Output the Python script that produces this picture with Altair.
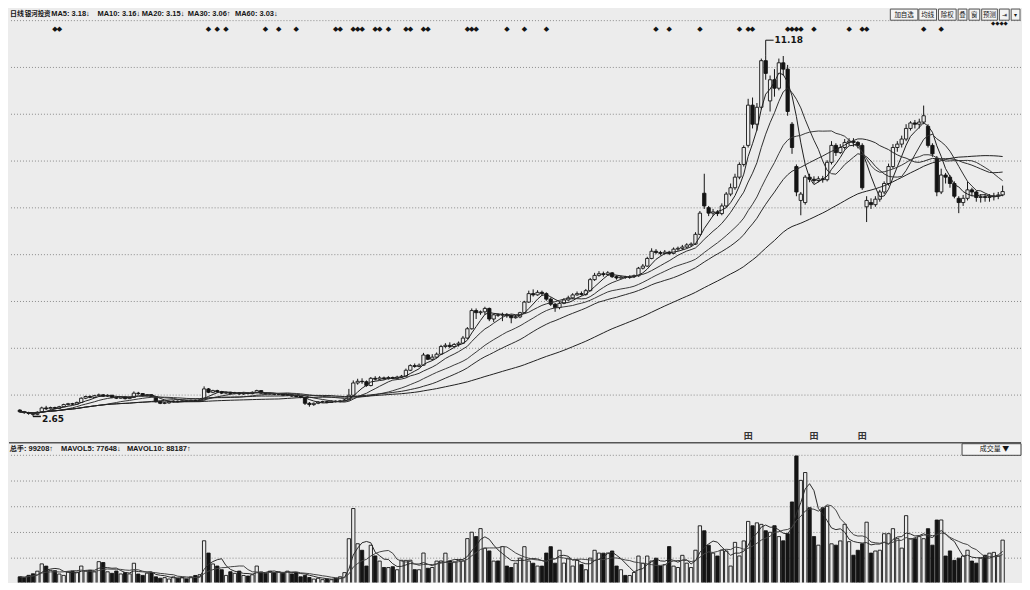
import altair as alt
import pandas as pd

# ---------------- data ----------------
period = "日线"
stock_name = "银河投资"
ma_labels = ["MA5: 3.18↓", "MA10: 3.16↓", "MA20: 3.15↓", "MA30: 3.06↑", "MA60: 3.03↓"]
vol_labels = ["总手: 99208↑", "MAVOL5: 77648↓", "MAVOL10: 88187↑"]
buttons = ["加自选", "均线", "除权", "叠", "窗", "预测", "⇥", "▾"]
vol_mode = "成交量 ▼"

open_ = [
    2.80, 2.76, 2.74, 2.72, 2.70, 2.75, 2.85, 2.83, 2.86, 2.84,
    2.88, 2.93, 2.95, 2.94, 2.98, 3.08, 3.12, 3.10, 3.14, 3.16,
    3.13, 3.15, 3.10, 3.08, 3.11, 3.07, 3.10, 3.20, 3.19, 3.14,
    3.16, 3.12, 3.00, 2.96, 2.97, 3.00, 3.01, 3.00, 3.02, 3.01,
    3.03, 3.02, 3.04, 3.30, 3.22, 3.26, 3.23, 3.20, 3.22, 3.19,
    3.21, 3.18, 3.20, 3.19, 3.22, 3.26, 3.20, 3.18, 3.19, 3.17,
    3.18, 3.15, 3.16, 3.13, 3.12, 3.10, 2.96, 2.93, 2.96, 2.99,
    3.00, 2.98, 3.01, 3.00, 3.02, 3.04, 3.15, 3.44, 3.48, 3.47,
    3.38, 3.55, 3.53, 3.56, 3.54, 3.57, 3.55, 3.58, 3.60, 3.74,
    3.85, 3.83, 3.86, 4.10, 4.00, 4.05, 4.12, 4.30, 4.33, 4.30,
    4.35, 4.38, 4.50, 4.72, 5.15, 5.10, 5.12, 5.20, 4.95, 5.05,
    5.04, 5.06, 5.03, 4.98, 5.00, 5.10, 5.35, 5.55, 5.52, 5.58,
    5.55, 5.42, 5.30, 5.22, 5.32, 5.40, 5.45, 5.52, 5.55, 5.53,
    5.62, 5.88, 5.98, 6.02, 6.00, 6.04, 5.95, 5.92, 5.94, 5.93,
    5.95, 5.97, 6.15, 6.20, 6.38, 6.55, 6.52, 6.50, 6.53, 6.50,
    6.60, 6.62, 6.65, 6.70, 6.72, 6.95, 7.92, 7.58, 7.45, 7.48,
    7.44, 7.62, 7.90, 8.05, 8.30, 8.60, 9.05, 10.00, 9.55, 9.95,
    11.05, 10.10, 10.60, 10.40, 11.00, 10.85, 9.55, 8.55, 7.75, 7.70,
    8.30, 8.25, 8.22, 8.26, 8.24, 8.65, 9.05, 8.88, 9.00, 9.12,
    9.15, 9.12, 9.05, 7.60, 7.70, 7.65, 7.78, 7.95, 8.15, 8.55,
    9.00, 9.08, 9.20, 9.45, 9.58, 9.55, 9.60, 9.50, 9.05, 8.75,
    7.95, 8.35, 8.30, 8.15, 7.80, 7.70, 7.80, 8.00, 7.95, 7.82,
    7.84, 7.82, 7.84, 7.86, 7.88,
]
close = [
    2.76, 2.74, 2.72, 2.70, 2.75, 2.85, 2.83, 2.86, 2.84, 2.88,
    2.93, 2.95, 2.94, 2.98, 3.08, 3.12, 3.10, 3.14, 3.16, 3.13,
    3.15, 3.10, 3.08, 3.11, 3.07, 3.10, 3.20, 3.19, 3.14, 3.16,
    3.12, 3.00, 2.96, 2.97, 3.00, 3.01, 3.00, 3.02, 3.01, 3.03,
    3.02, 3.04, 3.30, 3.22, 3.26, 3.23, 3.20, 3.22, 3.19, 3.21,
    3.18, 3.20, 3.19, 3.22, 3.26, 3.20, 3.18, 3.19, 3.17, 3.18,
    3.15, 3.16, 3.13, 3.12, 3.10, 2.96, 2.93, 2.96, 2.99, 3.00,
    2.98, 3.01, 3.00, 3.02, 3.04, 3.15, 3.44, 3.48, 3.47, 3.38,
    3.55, 3.53, 3.56, 3.54, 3.57, 3.55, 3.58, 3.60, 3.74, 3.85,
    3.83, 3.86, 4.10, 4.00, 4.05, 4.12, 4.30, 4.33, 4.30, 4.35,
    4.38, 4.50, 4.72, 5.15, 5.10, 5.12, 5.20, 4.95, 5.05, 5.04,
    5.06, 5.03, 4.98, 5.00, 5.10, 5.35, 5.55, 5.52, 5.58, 5.55,
    5.42, 5.30, 5.22, 5.32, 5.40, 5.45, 5.52, 5.55, 5.53, 5.62,
    5.88, 5.98, 6.02, 6.00, 6.04, 5.95, 5.92, 5.94, 5.93, 5.95,
    5.97, 6.15, 6.20, 6.38, 6.55, 6.52, 6.50, 6.53, 6.50, 6.60,
    6.62, 6.65, 6.70, 6.72, 6.95, 7.45, 7.62, 7.45, 7.48, 7.44,
    7.62, 7.90, 8.05, 8.30, 8.60, 9.00, 10.00, 9.55, 9.95, 11.05,
    10.75, 10.60, 10.40, 11.00, 10.85, 9.85, 9.00, 7.95, 7.90, 8.30,
    8.25, 8.22, 8.26, 8.24, 8.65, 9.05, 8.88, 9.00, 9.12, 9.15,
    9.12, 9.05, 8.05, 7.75, 7.65, 7.78, 7.95, 8.15, 8.55, 9.00,
    9.08, 9.20, 9.45, 9.58, 9.55, 9.60, 9.75, 9.05, 8.85, 7.95,
    8.35, 8.30, 8.15, 7.85, 7.70, 7.80, 8.00, 7.95, 7.82, 7.84,
    7.82, 7.84, 7.86, 7.88, 7.96,
]
high = [
    2.82, 2.78, 2.76, 2.74, 2.77, 2.88, 2.90, 2.88, 2.88, 2.90,
    2.95, 2.97, 2.97, 3.00, 3.10, 3.14, 3.15, 3.16, 3.19, 3.18,
    3.17, 3.16, 3.12, 3.13, 3.12, 3.12, 3.24, 3.23, 3.20, 3.18,
    3.17, 3.13, 3.02, 2.99, 3.02, 3.03, 3.03, 3.04, 3.04, 3.05,
    3.05, 3.06, 3.36, 3.32, 3.28, 3.28, 3.25, 3.24, 3.23, 3.23,
    3.22, 3.22, 3.22, 3.24, 3.28, 3.27, 3.21, 3.21, 3.20, 3.20,
    3.19, 3.18, 3.17, 3.15, 3.13, 3.10, 2.99, 2.98, 3.01, 3.02,
    3.02, 3.03, 3.03, 3.04, 3.06, 3.30, 3.50, 3.54, 3.55, 3.50,
    3.58, 3.60, 3.60, 3.59, 3.60, 3.59, 3.61, 3.63, 3.78, 3.88,
    3.90, 3.90, 4.15, 4.12, 4.12, 4.16, 4.34, 4.38, 4.40, 4.38,
    4.42, 4.55, 4.76, 5.20, 5.20, 5.15, 5.24, 5.22, 5.08, 5.08,
    5.10, 5.09, 5.06, 5.05, 5.12, 5.38, 5.62, 5.65, 5.63, 5.62,
    5.58, 5.46, 5.33, 5.35, 5.44, 5.50, 5.56, 5.60, 5.60, 5.66,
    5.92, 6.04, 6.08, 6.07, 6.08, 6.06, 5.98, 5.97, 5.97, 5.98,
    6.00, 6.18, 6.25, 6.42, 6.62, 6.60, 6.56, 6.58, 6.56, 6.64,
    6.66, 6.70, 6.74, 6.76, 7.00, 7.50, 8.38, 7.62, 7.55, 7.52,
    7.68, 7.95, 8.15, 8.38, 8.65, 9.05, 10.15, 10.18, 10.05, 11.10,
    11.18, 10.70, 10.85, 11.10, 11.16, 10.95, 9.60, 8.60, 7.95, 8.35,
    8.38, 8.32, 8.32, 8.33, 8.70, 9.15, 9.10, 9.08, 9.20, 9.22,
    9.22, 9.15, 9.10, 7.85, 7.80, 7.85, 8.00, 8.20, 8.62, 9.08,
    9.15, 9.28, 9.55, 9.62, 9.65, 9.68, 9.99, 9.55, 9.10, 8.80,
    8.50, 8.40, 8.35, 8.20, 7.85, 7.88, 8.20, 8.05, 7.98, 7.90,
    7.90, 7.90, 7.93, 7.95, 8.10,
]
low = [
    2.74, 2.71, 2.69, 2.65, 2.68, 2.74, 2.80, 2.81, 2.82, 2.83,
    2.87, 2.91, 2.92, 2.93, 2.97, 3.06, 3.08, 3.09, 3.12, 3.11,
    3.11, 3.08, 3.06, 3.07, 3.05, 3.06, 3.09, 3.16, 3.12, 3.12,
    3.10, 2.98, 2.94, 2.94, 2.95, 2.98, 2.98, 2.99, 2.99, 3.00,
    3.00, 3.00, 3.03, 3.20, 3.20, 3.21, 3.18, 3.18, 3.17, 3.17,
    3.16, 3.16, 3.17, 3.17, 3.20, 3.18, 3.16, 3.16, 3.15, 3.15,
    3.13, 3.13, 3.11, 3.10, 3.08, 2.92, 2.88, 2.90, 2.94, 2.97,
    2.96, 2.97, 2.98, 2.98, 3.01, 3.03, 3.14, 3.40, 3.42, 3.35,
    3.36, 3.50, 3.51, 3.52, 3.52, 3.53, 3.53, 3.56, 3.59, 3.72,
    3.80, 3.81, 3.85, 3.98, 3.97, 4.02, 4.10, 4.27, 4.26, 4.28,
    4.30, 4.36, 4.48, 4.70, 4.95, 5.05, 5.05, 4.90, 4.88, 5.00,
    4.90, 4.98, 4.85, 4.96, 4.97, 5.08, 5.33, 5.48, 5.50, 5.50,
    5.38, 5.26, 5.12, 5.18, 5.30, 5.38, 5.42, 5.50, 5.50, 5.50,
    5.60, 5.85, 5.95, 5.95, 5.97, 5.92, 5.88, 5.89, 5.90, 5.90,
    5.92, 5.95, 6.12, 6.18, 6.36, 6.48, 6.45, 6.47, 6.46, 6.48,
    6.56, 6.58, 6.62, 6.66, 6.70, 6.93, 7.55, 7.38, 7.38, 7.38,
    7.40, 7.58, 7.85, 8.00, 8.25, 8.55, 9.00, 9.45, 9.40, 9.90,
    10.60, 9.85, 10.20, 10.35, 10.70, 9.75, 8.85, 7.85, 7.40, 7.65,
    8.18, 8.15, 8.18, 8.17, 8.20, 8.60, 8.80, 8.85, 8.95, 9.05,
    9.02, 8.98, 8.00, 7.24, 7.55, 7.60, 7.72, 7.90, 8.10, 8.50,
    8.90, 9.00, 9.15, 9.40, 9.45, 9.45, 9.55, 9.00, 8.78, 7.85,
    7.90, 8.15, 8.05, 7.80, 7.45, 7.62, 7.75, 7.85, 7.72, 7.70,
    7.72, 7.72, 7.75, 7.78, 7.85,
]
volume = [
    48200, 47100, 50300, 52400, 56100, 66200, 63100, 57300, 56800, 52100,
    50200, 55400, 56300, 54800, 63200, 56100, 57200, 55100, 69300, 68100,
    55200, 53100, 56300, 52200, 54100, 52300, 67100, 52100, 50200, 53300,
    54100, 48200, 46300, 47100, 45200, 48100, 46200, 47300, 45100, 48200,
    50100, 51200, 98300, 81200, 66100, 63200, 58100, 50200, 55300, 53100,
    56200, 50100, 49300, 51100, 63200, 55100, 53200, 56100, 54300, 55100,
    53200, 56100, 52300, 54100, 48200, 50100, 47300, 45100, 46200, 44300,
    45100, 44200, 46100, 48300, 54100, 101200, 143100, 94200, 85100, 63200,
    92100, 77300, 70100, 61200, 61100, 62300, 58100, 71200, 71100, 71300,
    58200, 58100, 81300, 60100, 61200, 70100, 70300, 81100, 70200, 69100,
    71200, 70100, 101300, 110200, 104100, 115200, 88100, 84200, 70100, 70300,
    90200, 63100, 61200, 67100, 74200, 90100, 70200, 67100, 63200, 63100,
    81200, 90100, 67200, 85100, 67300, 74100, 63200, 71100, 65200, 58100,
    74200, 85100, 81200, 81100, 81300, 84100, 63200, 58100, 50200, 50100,
    54200, 77100, 67200, 77100, 70200, 74100, 63200, 65100, 90200, 63100,
    61200, 78100, 67200, 61100, 85200, 119100, 112200, 92100, 81200, 77100,
    85200, 84100, 63200, 96100, 77200, 98100, 125200, 119100, 123200, 121100,
    112200, 110100, 119200, 104100, 98200, 108100, 152200, 216100, 182200, 193100,
    144200, 104100, 92200, 144100, 146200, 94100, 92200, 98100, 121200, 97100,
    78200, 85100, 94200, 124100, 81200, 84100, 85200, 108100, 108200, 115100,
    101200, 88100, 133200, 101100, 101200, 104100, 101200, 115100, 92200, 127100,
    127200, 77100, 84200, 71100, 74200, 77100, 85200, 70100, 67200, 74100,
    78200, 81100, 82200, 77100, 99208,
]
signal_idx = [8, 9, 43, 45, 47, 56, 59, 63, 72, 73, 76, 77, 78, 81, 82, 84, 88, 89,
              92, 93, 102, 103, 104, 111, 115, 120, 145, 148, 155, 164, 166, 167,
              175, 176, 177, 178, 181, 189, 192, 193, 206, 210]
info_idx = [166, 181, 192]
ma_windows = [5, 10, 20, 30, 60]
vol_ma_windows = [5, 10]

# ---------------- layout ----------------
CJK = "Noto Sans CJK SC"
LAT = "Liberation Sans"
BG = "#ececec"
INK = "#141414"
SX = 1014 / 1030
SY = 574 / 590
W = 1014
H1 = 433
H2 = 574 - H1

X0, DX = 6.0, 4.51          # reference pixel of candle 0 and candle spacing
XDOM = [(0 - X0) / DX, (1030 - X0) / DX]
PK = 0.02293                 # price per reference pixel
PDOM = [2.65 - 25 * PK, 2.65 + 420 * PK]
VK = 1348                    # volume per reference pixel
VDOM = [(620 - 590) * VK, (620 - 445) * VK]

df = pd.DataFrame({"i": list(range(len(close))), "open": open_, "close": close,
                   "high": high, "low": low, "volume": volume})

xscale = alt.Scale(domain=XDOM, nice=False, zero=False)
xenc = alt.X("i:Q", scale=xscale, axis=None)
pscale = alt.Scale(domain=PDOM, nice=False, zero=False)
vscale = alt.Scale(domain=VDOM, nice=False, zero=False)
updown = alt.condition("datum.close >= datum.open", alt.value(BG), alt.value(INK))


def txt(label, x, y, size=8, align="left", weight="normal", color=INK, font=LAT):
    return alt.Chart(pd.DataFrame({"t": [label]})).mark_text(
        align=align, baseline="middle", fontSize=size, font=font,
        fontWeight=weight, color=color
    ).encode(x=alt.value(x), y=alt.value(y), text="t:N")


def box(x1, x2, y1, y2, fill, stroke):
    return alt.Chart(pd.DataFrame({"a": [0]})).mark_rect(
        fill=fill, stroke=stroke, strokeWidth=1
    ).encode(x=alt.value(x1), x2=alt.value(x2), y=alt.value(y1), y2=alt.value(y2))


base = alt.Chart(df)

# price grid: evenly spaced levels
step = 48.2 * PK
price_grid = [3.154 + k * step for k in range(9)]
grid = alt.Chart(pd.DataFrame({"g": price_grid})).mark_rule(
    color="#8c8c8c", strokeDash=[1, 2], strokeWidth=1
).encode(y=alt.Y("g:Q", scale=pscale, axis=None))

wicks = base.mark_rule(color=INK, strokeWidth=1).encode(
    x=xenc, y=alt.Y("low:Q", scale=pscale, axis=None), y2="high:Q")
bodies = base.mark_bar(size=3.3, stroke=INK, strokeWidth=0.9).encode(
    x=xenc, y=alt.Y("open:Q", scale=pscale, axis=None), y2="close:Q", fill=updown)

ma_colors = ["#1e1e1e", "#2e2e2e", "#3a3a3a", "#2a2a2a", "#202020"]
ma_lines = []
for n, c in zip(ma_windows, ma_colors):
    ma_lines.append(
        base.transform_window(ma="mean(close)", frame=[-(n - 1), 0], sort=[alt.SortField("i")])
        .mark_line(color=c, strokeWidth=1)
        .encode(x=xenc, y=alt.Y("ma:Q", scale=pscale, axis=None))
    )

# signal diamonds and info icons
diam = alt.Chart(pd.DataFrame({"i": signal_idx})).mark_text(
    text="◆", fontSize=7, color=INK, font="DejaVu Sans", baseline="middle"
).encode(x=xenc, y=alt.value(21 * SY))
info = alt.Chart(pd.DataFrame({"i": info_idx})).mark_text(
    text="田", fontSize=9, color="#333", font=CJK, baseline="middle", fontWeight="bold"
).encode(x=xenc, y=alt.value(440 * SY))

# max / min labels
px_price = (PDOM[1] - PDOM[0]) / H1
px_idx = (XDOM[1] - XDOM[0]) / W
imax = int(df["high"].idxmax())
imin = int(df["low"].idxmin())
hi = pd.DataFrame({"i": [imax], "p": [high[imax]], "top": [high[imax] + 15 * px_price],
                   "i2": [imax + 8 * px_idx], "lab": [f"{high[imax]:.2f}"]})
lo = pd.DataFrame({"i": [imin], "p": [low[imin]], "i2": [imin + 8 * px_idx],
                   "lab": [f"{low[imin]:.2f}"]})
hi_v = alt.Chart(hi).mark_rule(color=INK, strokeWidth=1).encode(
    x=xenc, y=alt.Y("p:Q", scale=pscale, axis=None), y2="top:Q")
hi_h = alt.Chart(hi).mark_rule(color=INK, strokeWidth=1).encode(
    x=xenc, x2="i2:Q", y=alt.Y("top:Q", scale=pscale, axis=None))
hi_t = alt.Chart(hi).mark_text(align="left", baseline="middle", fontSize=9, font="DejaVu Sans",
                               fontWeight="bold", color=INK, dx=1).encode(
    x=alt.X("i2:Q", scale=xscale, axis=None),
    y=alt.Y("top:Q", scale=pscale, axis=None), text="lab:N")
lo_h = alt.Chart(lo).mark_rule(color=INK, strokeWidth=1.5).encode(
    x=xenc, x2="i2:Q", y=alt.Y("p:Q", scale=pscale, axis=None))
lo_t = alt.Chart(lo).mark_text(align="left", baseline="middle", fontSize=9, font="DejaVu Sans",
                               fontWeight="bold", color=INK, dx=1, dy=3).encode(
    x=alt.X("i2:Q", scale=xscale, axis=None),
    y=alt.Y("p:Q", scale=pscale, axis=None), text="lab:N")

# header
header = [txt(period, 1 * SX, 6 * SY, size=7, font=CJK, weight="bold"),
          txt(stock_name, 16 * SX, 6 * SY, size=6.5, font=CJK, weight="bold")]
for t, x in zip(ma_labels, [43, 90, 135, 182, 230]):
    header.append(txt(t, x * SX, 6 * SY, size=7.5, weight="bold"))

btn_x = [(897, 925), (926, 944), (946, 964), (966, 975), (977, 988), (990, 1006), (1008, 1018), (1020, 1029)]
btns = []
for lab, (a, b) in zip(buttons, btn_x):
    btns.append(box(a * SX, b * SX, 0.5, 12 * SY, "#f4f4f4", "#555"))
    btns.append(txt(lab, (a + b) / 2 * SX, 6.3 * SY, size=6.5, align="center", font=CJK))
btns.append(txt("◆◆◆◆", 1008 * SX, 15 * SY, size=5.5, align="center", font="DejaVu Sans"))

top = alt.layer(grid, wicks, bodies, *ma_lines, diam, info, hi_v, hi_h, hi_t, lo_h, lo_t,
                *header, *btns).properties(width=W, height=H1)

# ---------------- volume panel ----------------
vstep = 26.5 * VK
vol_grid = [(620 - 565) * VK + k * vstep for k in range(5)]
vgrid = alt.Chart(pd.DataFrame({"g": vol_grid})).mark_rule(
    color="#8c8c8c", strokeDash=[1, 2], strokeWidth=1
).encode(y=alt.Y("g:Q", scale=vscale, axis=None))
vbars = base.mark_bar(size=3.3, stroke=INK, strokeWidth=0.9, clip=True).encode(
    x=xenc, y=alt.Y("volume:Q", scale=vscale, axis=None), y2=alt.value(H2), fill=updown)
vol_lines = []
for n, c in zip(vol_ma_windows, ["#2a2a2a", "#444444"]):
    vol_lines.append(
        base.transform_window(mv="mean(volume)", frame=[-(n - 1), 0], sort=[alt.SortField("i")])
        .mark_line(color=c, strokeWidth=1, clip=True)
        .encode(x=xenc, y=alt.Y("mv:Q", scale=vscale, axis=None))
    )
sep = alt.Chart(pd.DataFrame({"a": [0]})).mark_rule(color="#555", strokeWidth=1.5).encode(
    x=alt.value(0), x2=alt.value(W), y=alt.value(1))
vheader = [txt(t, x * SX, 7.5 * SY, size=7.5, weight="bold")
           for t, x in zip(vol_labels, [1, 53, 120])]
vbox = [box(970 * SX, 1030 * SX, 2, 14 * SY, "#f4f4f4", "#444"),
        txt(vol_mode, 1003 * SX, 8 * SY, size=7, align="center", font=CJK)]

bottom = alt.layer(vgrid, vbars, *vol_lines, sep, *vheader, *vbox).properties(width=W, height=H2)

chart = alt.vconcat(top, bottom, spacing=0).properties(
    padding=0, background=BG
).configure_view(strokeWidth=0)

chart.save("out.html", embed_options={"renderer": "svg", "actions": False})
